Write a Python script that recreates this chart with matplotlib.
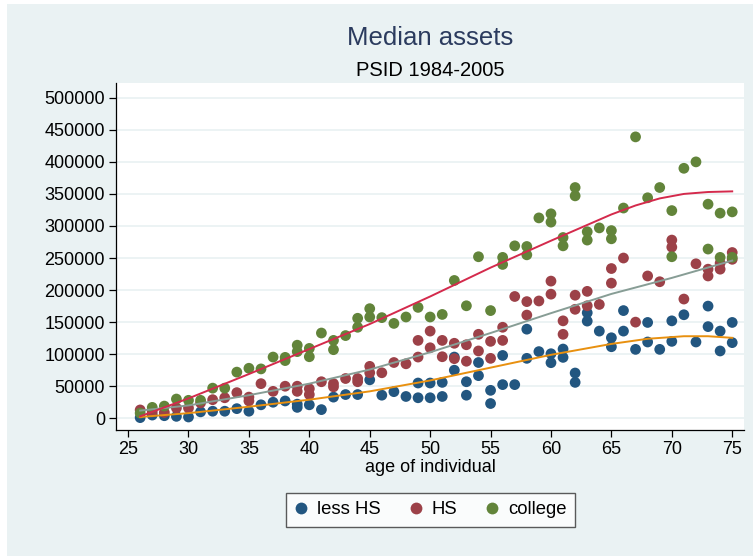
import numpy as np
import matplotlib
matplotlib.use("Agg")
import matplotlib.pyplot as plt
from matplotlib.patches import Rectangle
from matplotlib.lines import Line2D

plt.rcParams['font.family'] = ['Liberation Sans', 'DejaVu Sans']

# ---------------- data ----------------
ages_less = [26, 27, 28, 29, 30, 31, 32, 33, 34, 35, 36, 37, 38, 39, 39, 40, 41, 42, 43, 44,
             45, 46, 47, 48, 49, 49, 50, 50, 51, 51, 52, 52, 53, 53, 54, 54, 55, 55, 56, 56,
             57, 58, 58, 59, 60, 60, 61, 61, 62, 62, 63, 63, 64, 65, 65, 66, 66, 67, 68, 68,
             69, 70, 70, 71, 72, 73, 73, 74, 74, 75, 75]
assets_less = [1000, 5000, 4000, 3000, 2000, 10000, 11000, 11000, 15000, 11000, 21000, 25000,
               27000, 22000, 17000, 21000, 13500, 33000, 37000, 37000,
               60000, 36000, 41500, 34000, 55000, 32000, 55000, 32000, 56000, 34000,
               95500, 75000, 57000, 36000, 87000, 66500, 43600, 23000, 98000, 52500,
               52500, 139000, 93500, 104000, 100700, 86700, 108000, 95000, 70600, 56000,
               164600, 151600, 136000, 125600, 111600, 168000, 136000, 107500, 149500, 119000,
               107500, 152000, 120000, 161500, 119000, 175000, 143000, 136000, 105000,
               149500, 118000]

ages_hs = [26, 27, 28, 29, 30, 31, 32, 33, 34, 35, 35, 36, 37, 38, 39, 39, 40, 40, 41, 42, 42,
           43, 44, 44, 45, 45, 46, 47, 48, 49, 49, 50, 50, 51, 51, 52, 52, 53, 53, 54, 54,
           55, 55, 56, 56, 57, 58, 58, 59, 60, 60, 61, 61, 62, 62, 63, 63, 64, 65, 65,
           66, 67, 68, 69, 70, 70, 71, 72, 73, 73, 74, 74, 75, 75]
assets_hs = [13000, 10000, 9000, 16000, 16000, 24000, 29000, 32000, 40000, 33000, 27000,
             54000, 42000, 50000, 50000, 42000, 46000, 37000, 57000, 54000, 49000,
             62000, 62000, 57000, 81000, 71000, 71000, 87000, 85000, 121500, 95500,
             136000, 110000, 121500, 96000, 117000, 93000, 114700, 89000, 131000, 105000,
             120000, 93500, 142000, 121500, 190000, 182000, 161000, 183000, 214000, 193600,
             152000, 131000, 192000, 170000, 198000, 175500, 177600, 233600, 210800,
             250000, 150000, 222000, 213000, 278000, 267000, 186000, 241000, 232600, 222000,
             242000, 232600, 258600, 248000]

ages_col = [26, 27, 28, 29, 30, 31, 32, 33, 34, 35, 36, 37, 38, 38, 39, 39, 40, 40, 41, 42, 42,
            43, 44, 44, 45, 45, 46, 47, 48, 49, 50, 51, 52, 53, 54, 55, 56, 56, 57, 58, 58,
            59, 60, 60, 61, 61, 62, 62, 63, 63, 64, 65, 65, 66, 67, 68, 69, 70, 70, 71, 72,
            73, 73, 74, 74, 75, 75]
assets_col = [8000, 17000, 19000, 30000, 28000, 28000, 47000, 47000, 72000, 78000, 77000,
              95500, 95000, 90000, 114000, 104000, 109000, 96000, 133000, 121500, 107000,
              129000, 156000, 142000, 171000, 158000, 157000, 148000, 158000, 173000, 158000,
              162000, 215000, 175500, 252000, 168000, 251000, 240000, 269000, 268000, 255000,
              312600, 319000, 306000, 282000, 269000, 360000, 347000, 291000, 278000, 297000,
              292800, 280000, 328000, 439000, 344000, 360000, 324000, 252000, 390000, 400000,
              334000, 264000, 320000, 251000, 322000, 251000]

# smooth profile lines
line_ages_less = [26, 30, 35, 40, 45, 50, 55, 60, 65, 68, 71, 73, 75]
line_vals_less = [2000, 8000, 18000, 29000, 42000, 59000, 79000, 99000, 116000, 124000,
                  128000, 128000, 125500]
line_ages_hs = [26, 30, 35, 40, 45, 50, 55, 60, 65, 70, 75]
line_vals_hs = [12000, 20000, 36000, 54000, 76000, 103000, 133000, 164000, 194000, 219000,
                246000]
line_ages_col = [26, 30, 35, 40, 45, 50, 55, 60, 65, 67, 69, 71, 73, 75]
line_vals_col = [3000, 31000, 69000, 108000, 147000, 190000, 235000, 277000, 318000,
                 332000, 343000, 350000, 353000, 354000]

group_labels = ["less HS", "HS", "college"]
x_ticks = [25, 30, 35, 40, 45, 50, 55, 60, 65, 70, 75]
y_ticks = [0, 50000, 100000, 150000, 200000, 250000, 300000, 350000, 400000, 450000, 500000]

# ---------------- style ----------------
BG = '#eaf2f3'
marker_cols = ['#225680', '#9c4148', '#62843a']
line_cols = ['#e8900f', '#879d95', '#d42a4c']

fig = plt.figure(figsize=(7.53, 5.56), dpi=100, facecolor='white')
fig.patches.append(Rectangle((7 / 753, 0), 1, 552 / 556, transform=fig.transFigure,
                             facecolor=BG, edgecolor='none', zorder=-10))

L, R, B, T = 116 / 753, 744.3 / 753, 1 - 430 / 556, 1 - 83.3 / 556
ax = fig.add_axes([L, B, R - L, T - B])
ax.set_facecolor('white')

groups = [(ages_less, assets_less), (ages_hs, assets_hs), (ages_col, assets_col)]
for (a, v), c, lab in zip(groups, marker_cols, group_labels):
    ax.scatter(a, v, s=60, color=c, edgecolors='none', zorder=3, label=lab)

lines = [(line_ages_less, line_vals_less), (line_ages_hs, line_vals_hs),
         (line_ages_col, line_vals_col)]
for (a, v), c in zip(lines, line_cols):
    ax.plot(a, v, color=c, lw=1.4, zorder=4, solid_joinstyle='round')

ax.set_xlim(24, 76)
ax.set_ylim(-18300, 522600)
ax.set_xticks(x_ticks)
ax.set_yticks(y_ticks)
ax.set_yticklabels([str(t) for t in y_ticks])
ax.grid(axis='y', color=BG, lw=1.3, zorder=0)
ax.set_axisbelow(True)
for s in ['top', 'right']:
    ax.spines[s].set_visible(False)
for s in ['left', 'bottom']:
    ax.spines[s].set_color('black')
    ax.spines[s].set_linewidth(0.9)
ax.tick_params(axis='both', direction='out', length=5, width=0.9, colors='black',
               labelsize=13, pad=3)

cx = (L + R) / 2
fig.text(cx, 1 - 38 / 556, "Median assets", ha='center', va='center', fontsize=18.5,
         color='#2b3b5e')
fig.text(cx, 1 - 71 / 556, "PSID 1984-2005", ha='center', va='center', fontsize=14.5,
         color='black')
fig.text(cx, 1 - 467 / 556, "age of individual", ha='center', va='center', fontsize=13,
         color='black')

handles = [Line2D([], [], marker='o', ls='none', color=c, markersize=8.5,
                  markeredgewidth=0) for c in marker_cols]
leg = fig.legend(handles, group_labels, loc='center', bbox_to_anchor=(cx, 1 - 510 / 556),
                 ncol=3, frameon=True, fontsize=13.3, handletextpad=0.45,
                 columnspacing=1.5, borderpad=0.45, handlelength=0.8, fancybox=False)
leg.get_frame().set_edgecolor('#333333')
leg.get_frame().set_linewidth(1.0)
leg.get_frame().set_facecolor('white')

fig.savefig('out.png', dpi=100, facecolor=fig.get_facecolor())
